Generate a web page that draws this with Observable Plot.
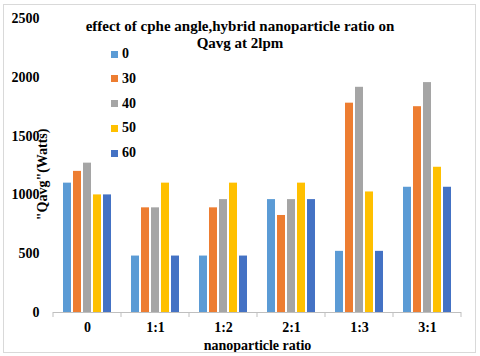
<!DOCTYPE html>
<html><head><meta charset="utf-8">
<script src="https://cdn.jsdelivr.net/npm/d3@7"></script>
<script src="https://cdn.jsdelivr.net/npm/@observablehq/plot@0.6"></script>
<style>
body{margin:0;background:#fff;}
#wrap{position:relative;width:480px;height:356px;font-family:"Liberation Serif","Tinos","Times New Roman","DejaVu Serif",serif;font-weight:bold;color:#000;overflow:hidden;}
#border{position:absolute;left:3px;top:4px;width:471px;height:347px;border:1px solid #d9d9d9;pointer-events:none;}
#title{position:absolute;left:0;width:480px;top:18px;text-align:center;font-size:15px;line-height:17px;}
.lg{position:absolute;left:111px;font-size:14px;line-height:16px;height:16px;display:flex;align-items:center;}
.lg span.sw{display:inline-block;width:7px;height:7px;margin-right:4px;}
#plot{position:absolute;left:0;top:0;}
</style></head><body>
<div id="wrap"><div id="plot"></div><div id="border"></div>
<div id="title">effect of cphe angle,hybrid nanoparticle ratio on<br>Qavg at 2lpm</div>
</div>
<script>
const ratios = ["0", "1:1", "1:2", "2:1", "1:3", "3:1"];
const angles = ["0", "30", "40", "50", "60"];
const colors = ["#5B9BD5", "#ED7D31", "#A5A5A5", "#FFC000", "#4472C4"];
const q0  = [1100, 480, 480, 960, 520, 1065];
const q30 = [1200, 890, 890, 825, 1780, 1750];
const q40 = [1270, 890, 960, 960, 1915, 1955];
const q50 = [1000, 1100, 1100, 1100, 1025, 1235];
const q60 = [1000, 480, 480, 960, 520, 1065];
const yTicks = [0, 500, 1000, 1500, 2000, 2500];
const yLabel = '"Qavg"(Watts)';
const series = [q0, q30, q40, q50, q60];

const data = [];
ratios.forEach((r, i) => angles.forEach((a, j) => data.push({ratio: r, angle: a, q: series[j][i]})));

const FONT = '"Liberation Serif","Tinos","Times New Roman","DejaVu Serif",serif';
const chart = Plot.plot({
  width: 480, height: 356,
  marginTop: 18, marginBottom: 44, marginLeft: 51, marginRight: 17,
  style: {fontFamily: FONT, fontWeight: "bold", fontSize: "14px", color: "#000", background: "transparent", overflow: "visible"},
  fx: {domain: ratios, padding: 0, label: "nanoparticle ratio", axis: "bottom", tickSize: 0, tickPadding: 10, labelAnchor: "center", labelOffset: 37},
  x: {domain: angles, axis: null, paddingInner: 0.2, paddingOuter: 0.75},
  y: {domain: [0, 2500], ticks: yTicks, tickFormat: d3.format("d"), tickSize: 0, tickPadding: 14, label: null},
  color: {domain: angles, range: colors},
  marks: [
    Plot.barY(data, {fx: "ratio", x: "angle", y: "q", fill: "angle"}),
    Plot.ruleY([0], {stroke: "#bfbfbf"})
  ]
});
document.getElementById("plot").appendChild(chart);

const fx = chart.scale("fx");
const yS = chart.scale("y");
const y0 = yS.apply(0);
const svg = d3.select(chart);

// category boundary tick marks on the baseline
const bounds = ratios.map(r => fx.apply(r));
bounds.push(fx.apply(ratios[ratios.length - 1]) + fx.bandwidth);
svg.append("g").selectAll("line").data(bounds).join("line")
  .attr("x1", d => d).attr("x2", d => d)
  .attr("y1", y0).attr("y2", y0 + 5)
  .attr("stroke", "#bfbfbf");

// y axis title (rotated)
svg.append("text")
  .attr("transform", `translate(47,${yS.apply(1170)}) rotate(-90)`)
  .attr("text-anchor", "middle")
  .attr("font-size", 14)
  .attr("font-weight", "bold")
  .attr("font-family", FONT)
  .attr("fill", "#000")
  .text(yLabel);

// legend
const wrap = document.getElementById("wrap");
angles.forEach((a, i) => {
  const el = document.createElement("div");
  el.className = "lg";
  el.style.top = (46 + i * 24.8) + "px";
  el.innerHTML = `<span class="sw" style="background:${colors[i]}"></span>${a}`;
  wrap.appendChild(el);
});
</script>
</body></html>
